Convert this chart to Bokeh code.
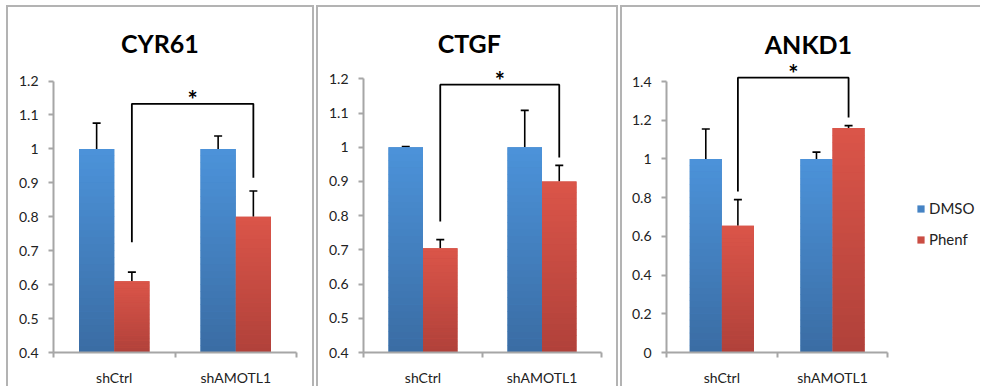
from bokeh.plotting import figure
from bokeh.models import ColumnDataSource, Whisker, TeeHead, FixedTicker, Legend, LegendItem, Range1d
from bokeh.layouts import row
from bokeh.embed import file_html
from bokeh.resources import INLINE
from bokeh.core.properties import value

# ---------------- data ----------------
groups = ["shCtrl", "shAMOTL1"]
series_names = ["DMSO", "Phenf"]
titles = ["CYR61", "CTGF", "ANKD1"]

cyr61_dmso = [1.00, 1.00]
cyr61_dmso_err = [0.076, 0.038]
cyr61_phenf = [0.61, 0.80]
cyr61_phenf_err = [0.027, 0.076]
cyr61_yticks = [0.4, 0.5, 0.6, 0.7, 0.8, 0.9, 1.0, 1.1, 1.2]
cyr61_ylabels = ["0.4", "0.5", "0.6", "0.7", "0.8", "0.9", "1", "1.1", "1.2"]
cyr61_bracket = [0.725, 1.133, 0.915]   # left end, top, right end

ctgf_dmso = [1.00, 1.00]
ctgf_dmso_err = [0.002, 0.108]
ctgf_phenf = [0.705, 0.90]
ctgf_phenf_err = [0.025, 0.047]
ctgf_yticks = [0.4, 0.5, 0.6, 0.7, 0.8, 0.9, 1.0, 1.1, 1.2]
ctgf_ylabels = ["0.4", "0.5", "0.6", "0.7", "0.8", "0.9", "1", "1.1", "1.2"]
ctgf_bracket = [0.783, 1.183, 0.97]

ankd1_dmso = [1.00, 1.00]
ankd1_dmso_err = [0.155, 0.035]
ankd1_phenf = [0.655, 1.16]
ankd1_phenf_err = [0.135, 0.012]
ankd1_yticks = [0.0, 0.2, 0.4, 0.6, 0.8, 1.0, 1.2, 1.4]
ankd1_ylabels = ["0", "0.2", "0.4", "0.6", "0.8", "1", "1.2", "1.4"]
ankd1_bracket = [0.832, 1.42, 1.214]

# ---------------- style / layout ----------------
FONT = "Lato"
BLUE_TOP, BLUE_BOT = (76, 147, 218), (58, 108, 163)
RED_TOP, RED_BOT = (219, 85, 73), (176, 65, 58)
BORDER = "2px solid #b3b3b3"
H = 381


def hexc(c):
    return "#%02x%02x%02x" % tuple(int(round(v)) for v in c)


def mix(a, b, t):
    return tuple(a[i] + (b[i] - a[i]) * t for i in range(3))


def make_panel(title, dmso, dmso_err, phenf, phenf_err, yticks, ylabels, bracket,
               width, mbl, mbr, mbb, y_end, x_end, title_x, title_y, styles, margin, legend=False):
    base = yticks[0]
    p = figure(width=width, height=H, output_backend="svg", toolbar_location=None,
               x_range=Range1d(0, x_end), y_range=Range1d(base, y_end),
               min_border_left=mbl, min_border_right=mbr, min_border_bottom=mbb,
               min_border_top=0, outline_line_color=None, background_fill_color="white",
               border_fill_color="white", margin=margin)
    p.styles = styles
    p.grid.visible = False

    centers = [i + 0.5 for i in range(len(groups))]
    bw = 0.29
    xd = [c - bw / 2 for c in centers]
    xp = [c + bw / 2 for c in centers]

    # base bars (used for the legend)
    r_d = p.vbar(x=xd, top=dmso, bottom=base, width=bw, fill_color=hexc(mix(BLUE_TOP, BLUE_BOT, 0.4)), line_color=None)
    r_p = p.vbar(x=xp, top=phenf, bottom=base, width=bw, fill_color=hexc(mix(RED_TOP, RED_BOT, 0.4)), line_color=None)

    # gradient slices
    L, R, B, T, C = [], [], [], [], []
    N = 30
    for xs, vals, ctop, cbot in ((xd, dmso, BLUE_TOP, BLUE_BOT), (xp, phenf, RED_TOP, RED_BOT)):
        for x, v in zip(xs, vals):
            for k in range(N):
                b0 = base + (v - base) * k / N
                t0 = base + (v - base) * (k + 1) / N
                L.append(x - bw / 2); R.append(x + bw / 2)
                B.append(b0); T.append(t0 + (v - base) * 0.002 if k < N - 1 else t0)
                C.append(hexc(mix(cbot, ctop, (k + 0.5) / N)))
    p.quad(left=L, right=R, bottom=B, top=T, fill_color=C, line_color=None)

    # error bars (upper only)
    for xs, vals, errs in ((xd, dmso, dmso_err), (xp, phenf, phenf_err)):
        src = ColumnDataSource(dict(x=xs, lo=vals, hi=[v + e for v, e in zip(vals, errs)]))
        w = Whisker(base="x", lower="lo", upper="hi", source=src, dimension="height",
                    line_color="black", line_width=1.6,
                    upper_head=TeeHead(size=8, line_color="black", line_width=1.6), lower_head=None)
        p.add_layout(w)

    # significance bracket
    bl, btop, br = bracket
    xl, xr = xp[0], xp[1]
    p.line(x=[xl, xl, xr, xr], y=[bl, btop, btop, br], line_color="black", line_width=1.8)
    p.text(x=[(xl + xr) / 2], y=[btop], text=["*"], text_font=value(FONT), text_font_style="bold",
           text_font_size="24px", text_align="center", text_baseline="middle", y_offset=-4,
           text_color="black")

    # title
    p.text(x=[title_x], y=[title_y], text=[title], text_font=value(FONT), text_font_style="bold",
           text_font_size="25px", text_align="center", text_baseline="middle", text_color="black")

    # axes
    ya = p.yaxis[0]
    ya.ticker = FixedTicker(ticks=yticks, minor_ticks=[])
    ya.major_label_overrides = {t: l for t, l in zip(yticks, ylabels)}
    ya.bounds = (yticks[0], yticks[-1])
    ya.major_tick_out = 5
    ya.major_tick_in = 0
    ya.major_label_standoff = 10
    xa = p.xaxis[0]
    xa.ticker = FixedTicker(ticks=centers, minor_ticks=[0, 1, 2])
    xa.major_label_overrides = {c: g for c, g in zip(centers, groups)}
    xa.bounds = (0, len(groups))
    xa.major_tick_out = 0
    xa.major_tick_in = 0
    xa.minor_tick_out = 5
    xa.minor_tick_in = 0
    xa.major_label_standoff = 11
    for a in (xa, ya):
        a.axis_line_color = "#a6a6a6"
        a.axis_line_width = 2
        a.major_tick_line_color = "#a6a6a6"
        a.minor_tick_line_color = "#a6a6a6"
        a.major_tick_line_width = 2
        a.minor_tick_line_width = 2
        a.major_label_text_font = FONT
        a.major_label_text_font_size = "14px"
        a.major_label_text_color = "#222222"

    if legend:
        lg = Legend(items=[LegendItem(label=series_names[0], renderers=[r_d]),
                           LegendItem(label=series_names[1], renderers=[r_p])],
                    location=(250, 104), glyph_width=9, glyph_height=9, label_standoff=4,
                    spacing=13, padding=0, margin=0, border_line_color=None,
                    background_fill_alpha=0, label_text_font=FONT, label_text_font_size="15px",
                    label_text_color="#222222", label_height=9)
        p.add_layout(lg)
    return p


p1 = make_panel(titles[0], cyr61_dmso, cyr61_dmso_err, cyr61_phenf, cyr61_phenf_err,
                cyr61_yticks, cyr61_ylabels, cyr61_bracket,
                width=308, mbl=45, mbr=20, mbb=32, y_end=1.4168, x_end=2, title_x=0.875, title_y=1.311,
                styles={"border-left": BORDER, "border-top": BORDER, "border-right": BORDER},
                margin=(5, 0, 0, 6))
p2 = make_panel(titles[1], ctgf_dmso, ctgf_dmso_err, ctgf_phenf, ctgf_phenf_err,
                ctgf_yticks, ctgf_ylabels, ctgf_bracket,
                width=302, mbl=45, mbr=19, mbb=31, y_end=1.4087, x_end=2, title_x=0.889, title_y=1.304,
                styles={"border-left": BORDER, "border-top": BORDER, "border-right": BORDER},
                margin=(5, 0, 0, 0))
p3 = make_panel(titles[2], ankd1_dmso, ankd1_dmso_err, ankd1_phenf, ankd1_phenf_err,
                ankd1_yticks, ankd1_ylabels, ankd1_bracket,
                width=360, mbl=44, mbr=0, mbb=34, y_end=1.7823, x_end=2.855, title_x=1.282, title_y=1.596,
                styles={"border-left": BORDER, "border-top": BORDER},
                margin=(5, 0, 0, 0), legend=True)

layout = row(p1, p2, p3, spacing=2)
open("out.html", "w").write(file_html(layout, INLINE))
